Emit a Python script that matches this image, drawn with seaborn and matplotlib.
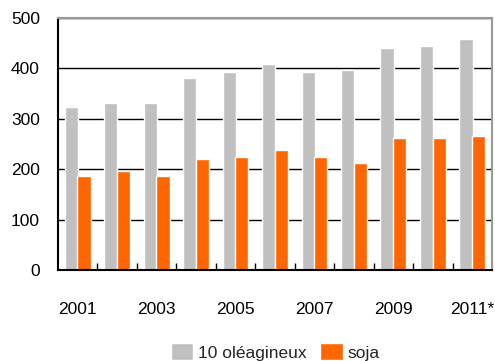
import numpy as np
import pandas as pd
import matplotlib
matplotlib.use("Agg")
import matplotlib.pyplot as plt
import seaborn as sns

years = ["2001", "2002", "2003", "2004", "2005", "2006", "2007", "2008", "2009", "2010", "2011*"]
oleagineux = [324, 332, 332, 380, 392, 408, 392, 396, 441, 445, 459]
soja = [186, 197, 186, 220, 224, 239, 224, 213, 262, 262, 266]
series_names = ["10 oléagineux", "soja"]
colors = ["#C0C0C0", "#FF6600"]

df = pd.DataFrame({
    "annee": years * 2,
    "valeur": oleagineux + soja,
    "serie": [series_names[0]] * len(years) + [series_names[1]] * len(years),
})

sns.set_theme(style="white")
plt.rcParams["font.family"] = ["Liberation Sans", "DejaVu Sans"]

fig = plt.figure(figsize=(4.95, 3.61), dpi=100)
ax = fig.add_axes([58 / 495, 1 - 270 / 361, 434 / 495, 252 / 361])

sns.barplot(data=df, x="annee", y="valeur", hue="serie", palette=colors,
            width=0.64, gap=-0.05, saturation=1, ax=ax, legend=True)

ax.set_ylim(0, 500)
ax.set_xlim(-0.5, len(years) - 0.5)
ax.set_yticks([0, 100, 200, 300, 400, 500])
ax.yaxis.grid(True, color="black", linewidth=1)
ax.set_axisbelow(True)

ax.set_xticks(range(0, len(years), 2))
ax.set_xticklabels(years[0::2])
ax.set_xticks(np.arange(0.5, len(years) - 1, 1.0), minor=True)
ax.tick_params(axis="x", which="major", length=0, pad=23, labelsize=12.5, colors="black")
ax.tick_params(axis="x", which="minor", direction="in", length=5, width=1, color="black", bottom=True)
ax.tick_params(axis="y", length=0, pad=13, labelsize=12.5, colors="black")

ax.set_xlabel("")
ax.set_ylabel("")

for side in ["left", "bottom"]:
    ax.spines[side].set_color("black")
    ax.spines[side].set_linewidth(1.5)
for side in ["top", "right"]:
    ax.spines[side].set_color("#999999")
    ax.spines[side].set_linewidth(1.5)

handles, labels = ax.get_legend_handles_labels()
ax.legend(handles, labels, loc="center", bbox_to_anchor=(0.5, -0.325), ncol=2,
          frameon=False, fontsize=12.5, handlelength=1.3, handleheight=1.1,
          handletextpad=0.25, columnspacing=0.8)

fig.savefig("out.png", dpi=100)
